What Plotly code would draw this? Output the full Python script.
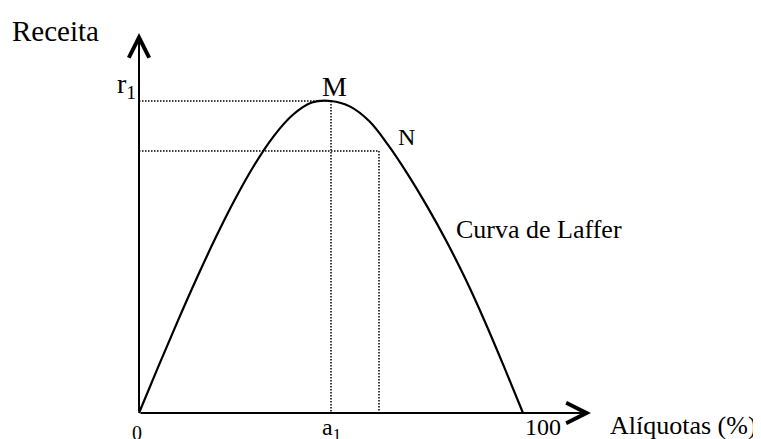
import plotly.graph_objects as go

# ---- data ----
aliquota = [0, 5, 10, 15, 20, 25, 30, 35, 40, 45, 50,
            55, 60, 65, 70, 75, 80, 85, 90, 95, 100]
receita = [0, 14.8, 29.2, 43.1, 56.3, 68.5, 79.4, 88.6, 95.5, 99.5, 100,
           98.2, 93.5, 85.7, 76.5, 66.3, 55.2, 43.0, 29.5, 15.0, 0]

a1, r1 = 50, 100          # point M
aN, rN = 62.5, 84         # point N
x_axis_end, y_axis_end = 117.7, 121.8

# ---- pixel frame (layout only) ----
PAGE = 8                  # browser body margin
W, H = 761 - PAGE, 439 - PAGE
OX, OY = 139 - PAGE, 413 - PAGE   # origin pixel inside the figure
SX, SY = 3.84, 3.12               # pixels per unit
x_range = [(0 - OX) / SX, (W - OX) / SX]
y_range = [(OY - H) / SY, (OY - 0) / SY]


def px2x(px):  # page pixel -> data x
    return (px - PAGE - OX) / SX


def py2y(py):  # page pixel -> data y
    return (OY - (py - PAGE)) / SY


FONT = "Liberation Serif, Times New Roman, serif"

fig = go.Figure()

# dotted guide lines
dot = dict(color="black", width=1.5, dash="1.5px,1.5px")
fig.add_trace(go.Scatter(x=[0, a1, a1], y=[r1, r1, 0], mode="lines",
                         line=dot, hoverinfo="skip"))
fig.add_trace(go.Scatter(x=[0, aN, aN], y=[rN, rN, 0], mode="lines",
                         line=dot, hoverinfo="skip"))

# Laffer curve
fig.add_trace(go.Scatter(x=aliquota, y=receita, mode="lines",
                         line=dict(color="black", width=2.2, shape="spline", smoothing=1.0),
                         hoverinfo="skip"))

# axes with open arrow heads
for (hx, hy) in [(x_axis_end, 0), (0, y_axis_end)]:
    fig.add_annotation(x=hx, y=hy, ax=0, ay=0, xref="x", yref="y", axref="x", ayref="y",
                       text="", showarrow=True, arrowhead=5, arrowsize=2.0,
                       arrowwidth=2, arrowcolor="black", standoff=0, startstandoff=0)


def label(text, x, y, size, xanchor="center", yanchor="middle", xshift=0, yshift=0):
    fig.add_annotation(x=x, y=y, xref="x", yref="y", text=text, showarrow=False,
                       font=dict(family=FONT, size=size, color="black"),
                       xanchor=xanchor, yanchor=yanchor, xshift=xshift, yshift=yshift)


label("Receita", px2x(10), py2y(31), 29, xanchor="left")
label("r<sub>1</sub>", 0, r1, 28, xanchor="right", yanchor="bottom", xshift=-1, yshift=-4)
label("M", a1, r1, 28, yanchor="bottom", xshift=3, yshift=-3)
label("N", px2x(406), py2y(137), 24)
label("Curva de Laffer", px2x(454), py2y(229), 26, xanchor="left")
label("0", 0, 0, 20, yanchor="top", xshift=-2, yshift=-7)
label("a<sub>1</sub>", a1, 0, 24, yanchor="top", yshift=1)
label("100", 100, 0, 24, xanchor="left", yshift=1, yanchor="top")
label("Alíquotas (%)", px2x(608), py2y(425), 26, xanchor="left")

fig.update_layout(
    width=W, height=H,
    margin=dict(l=0, r=0, t=0, b=0),
    paper_bgcolor="white", plot_bgcolor="white",
    showlegend=False,
    xaxis=dict(range=x_range, visible=False, fixedrange=True),
    yaxis=dict(range=y_range, visible=False, fixedrange=True),
)

fig.write_html("out.html")
